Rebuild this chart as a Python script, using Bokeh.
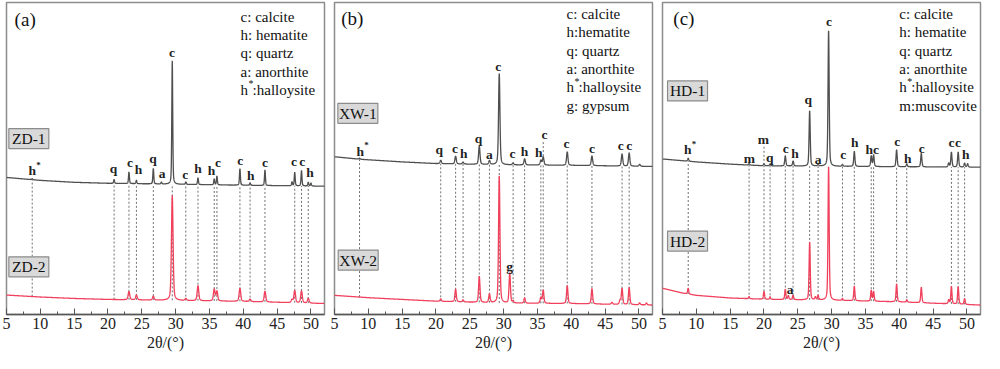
import numpy as np
from bokeh.plotting import figure
from bokeh.layouts import row
from bokeh.models import Range1d, SingleIntervalTicker
from bokeh.core.properties import value
from bokeh.embed import file_html
from bokeh.resources import INLINE

SERIF = "'Liberation Serif', 'Times New Roman', serif"
GRAY = "#4f4f4f"
RED = "#f0405c"
DOT = "#707070"

# ---------------- panel (a): ZD ----------------
a_top_base_x = [5, 10, 15, 20, 30, 40, 52]
a_top_base_y = [141, 138, 136, 135, 134, 133, 132]
a_top_pos = [8.8, 20.9, 23.1, 24.2, 26.7, 27.9, 29.5, 31.5, 33.3, 35.7, 36.1, 39.5, 41.0, 43.2, 47.2, 47.6, 48.6, 49.6, 50.0]
a_top_hgt = [1, 4, 12, 3.5, 16, 2, 127, 2.5, 7, 6, 9, 17, 2.5, 16, 4, 14, 16, 4, 3]
a_bot_base_x = [5, 10, 15, 20, 30, 40, 52]
a_bot_base_y = [20, 18, 16.5, 15.5, 14.5, 13.5, 11.3]
a_bot_pos = [23.1, 24.2, 26.7, 29.5, 31.5, 33.3, 35.7, 36.1, 39.5, 41.0, 43.2, 47.2, 47.6, 48.6, 49.6]
a_bot_hgt = [8.5, 5, 4, 108, 2, 15.5, 12, 10, 13.5, 2.5, 11, 3, 12.5, 12.5, 5]
a_lines = [8.8, 20.9, 23.1, 24.2, 26.7, 29.5, 31.5, 33.3, 35.7, 36.1, 39.5, 41.0, 43.2, 47.6, 48.6, 49.6]
a_lab_text = ["h*", "q", "c", "h", "q", "a", "c", "c", "h", "h", "c", "c", "h", "c", "c", "c", "h"]
a_lab_x = [8.8, 20.8, 23.25, 24.5, 26.65, 28.0, 29.45, 31.4, 33.3, 35.3, 36.25, 39.55, 41.1, 43.2, 47.5, 48.7, 49.85]
a_lab_y = [148, 150, 156, 149, 160, 145, 270, 144, 150, 148, 156, 158, 143, 156, 157, 157, 146]
a_samples = ["ZD-1", "ZD-2"]
a_legend = ["c: calcite", "h: hematite", "q: quartz", "a: anorthite", "h*:halloysite"]

# ---------------- panel (b): XW ----------------
b_top_base_x = [5, 8.8, 15, 20, 30, 40, 52]
b_top_base_y = [162.3, 159.7, 157, 155.3, 154, 153.5, 152.3]
b_top_pos = [8.7, 20.7, 22.9, 24.0, 26.4, 27.9, 29.35, 31.4, 33.1, 35.5, 35.85, 39.4, 43.05, 47.5, 48.55, 50.1]
b_top_hgt = [1, 3.5, 8, 2, 19, 4, 94, 2, 6.5, 5, 8.5, 14, 10, 12.5, 13.5, 2]
b_bot_base_x = [5, 10, 20, 30, 40, 52]
b_bot_base_y = [19.7, 17.3, 13.7, 11.7, 11.3, 9.7]
b_bot_pos = [20.7, 22.9, 24.0, 26.4, 27.9, 29.35, 30.9, 31.4, 33.1, 35.5, 35.85, 39.4, 43.05, 46.0, 47.2, 47.5, 48.55, 50.1, 51.1]
b_bot_hgt = [2.5, 13, 2, 27, 9, 131, 31, 2, 5.5, 6, 13.5, 18.5, 15.8, 2, 4, 16.5, 17.5, 2, 2]
b_lines = [8.7, 20.7, 22.9, 24.0, 26.4, 27.9, 29.35, 31.4, 33.1, 35.5, 35.85, 39.4, 43.05, 47.5, 48.55]
b_lab_text = ["h*", "q", "c", "h", "q", "a", "c", "c", "h", "h", "c", "c", "c", "c", "c", "g"]
b_lab_x = [8.8, 20.5, 22.8, 24.1, 26.3, 27.9, 29.2, 31.3, 33.1, 35.2, 36.05, 39.3, 43.05, 47.3, 48.55, 30.9]
b_lab_y = [168, 169.7, 170.3, 166, 181.3, 164.7, 255, 166, 168, 167, 184.7, 176, 170.3, 174, 174, 49.7]
b_lead_x = [35.85]
b_lead_y0 = [163]
b_lead_y1 = [178]
b_samples = ["XW-1", "XW-2"]
b_legend = ["c: calcite", "h:hematite", "q: quartz", "a: anorthite", "h*:halloysite", "g: gypsum"]

# ---------------- panel (c): HD ----------------
c_top_base_x = [5, 10, 15, 20, 30, 40, 52]
c_top_base_y = [160, 157, 154.7, 153, 152.5, 152, 151.5]
c_top_pos = [8.8, 17.8, 20.0, 20.9, 23.15, 24.3, 26.75, 28.0, 29.55, 31.6, 33.35, 35.85, 36.2, 39.6, 41.1, 43.25, 47.3, 47.7, 48.7, 49.65, 50.1]
c_top_hgt = [3, 1.5, 2, 2, 10.5, 5, 57, 2, 140, 2, 15.5, 11, 12, 17.5, 3, 14, 4, 15.5, 15.5, 4, 3.5]
c_bot_base_x = [5, 8, 10, 15, 20, 30, 40, 52]
c_bot_base_y = [27, 22, 19.7, 17, 15.7, 14.7, 13, 9.7]
c_bot_pos = [8.8, 17.8, 20.0, 20.9, 23.15, 23.6, 24.3, 26.75, 27.6, 28.0, 29.55, 31.6, 33.35, 35.85, 36.2, 39.6, 41.1, 43.25, 47.3, 47.7, 48.7, 49.65]
c_bot_hgt = [6, 2, 8, 2.5, 10.5, 4, 4.5, 59.5, 3, 4.5, 138, 2, 15, 11, 10, 18.3, 2.5, 16, 4, 18, 18, 6]
c_lines = [8.8, 17.8, 20.0, 20.9, 23.15, 24.3, 26.75, 28.0, 31.6, 33.35, 35.85, 36.2, 39.6, 41.1, 47.7, 48.7, 49.65]
c_lab_text = ["h*", "m", "m", "q", "c", "h", "q", "a", "c", "c", "h", "hc", "c", "h", "c", "c", "c", "h", "a"]
c_lab_x = [8.74, 17.85, 19.9, 20.87, 23.2, 24.6, 26.55, 28.0, 29.6, 31.7, 33.4, 36.0, 39.7, 41.25, 43.3, 47.7, 48.67, 49.83, 23.85]
c_lab_y = [169.7, 160.3, 179.7, 161.3, 170.3, 165.3, 221.3, 159.7, 301.3, 164.7, 177, 169.7, 178, 160.3, 171.3, 177, 177, 164.7, 25.3]
c_lead_x = [20.0]
c_lead_y0 = [154]
c_lead_y1 = [173]
c_samples = ["HD-1", "HD-2"]
c_legend = ["c: calcite", "h: hematite", "q: quartz", "a: anorthite", "h*:halloysite", "m:muscovite"]

X = np.arange(5.0, 52.01, 0.02)


def pattern(bx, by, pos, hgt, hw):
    y = np.interp(X, bx, by)
    for p0, h in zip(pos, hgt):
        d = (X - p0) / hw
        y = y + h * (0.4 / (1 + d * d) + 0.6 * np.exp(-np.log(2) * d * d))
    return y


def make_panel(letter, tb, tby, tp, th, thw, bb, bby, bp, bh, bhw, lines,
               lt, lx, ly, samples, box_xy, legend, leg_xy, lead=None):
    p = figure(width=328, height=353, x_range=Range1d(5, 52), y_range=Range1d(0, 321),
               output_backend="svg", toolbar_location=None, y_axis_location=None,
               min_border_left=6, min_border_right=4, min_border_top=2, min_border_bottom=0)
    p.xgrid.visible = False
    p.ygrid.visible = False
    p.outline_line_color = "#8c8c8c"
    p.outline_line_width = 1.5
    ax = p.xaxis[0]
    ax.ticker = SingleIntervalTicker(interval=5, num_minor_ticks=2)
    ax.major_tick_in = 6
    ax.major_tick_out = 0
    ax.minor_tick_in = 3
    ax.minor_tick_out = 0
    ax.axis_line_color = "#555555"
    ax.axis_line_width = 1.5
    ax.major_tick_line_color = "#555555"
    ax.minor_tick_line_color = "#555555"
    ax.major_label_text_font = SERIF
    ax.major_label_text_font_size = "16px"
    ax.major_label_text_color = "#222222"
    ax.major_label_standoff = 3
    ax.axis_label = "2θ/(°)"
    ax.axis_label_text_font = SERIF
    ax.axis_label_text_font_size = "16px"
    ax.axis_label_text_font_style = "normal"
    ax.axis_label_text_color = "#222222"
    ax.axis_label_standoff = 2

    # dotted reference lines
    lines = np.array(lines)
    y0 = np.interp(lines, bb, bby)
    y1 = np.interp(lines, tb, tby)
    p.segment(x0=lines, y0=y0, x1=lines, y1=y1, line_color=DOT, line_width=1, line_dash="2 2")
    if lead is not None:
        p.segment(x0=lead[0], y0=lead[1], x1=lead[0], y1=lead[2], line_color=DOT,
                  line_width=1, line_dash="2 2")

    p.line(X, pattern(tb, tby, tp, th, thw), line_color=GRAY, line_width=1.3)
    p.line(X, pattern(bb, bby, bp, bh, bhw), line_color=RED, line_width=1.3)

    # peak labels
    base_t = [t.replace("*", "") for t in lt]
    p.text(x=lx, y=ly, text=base_t, text_font=value(SERIF), text_font_size="13.5px",
           text_font_style="bold", text_align="center", text_baseline="middle", text_color="#222222")
    sx = [x for x, t in zip(lx, lt) if "*" in t]
    sy = [y for y, t in zip(ly, lt) if "*" in t]
    p.text(x=sx, y=sy, text=["*"] * len(sx), text_font=value(SERIF), text_font_size="9px",
           text_font_style="bold", text_align="left", text_baseline="middle",
           x_offset=4, y_offset=-6, text_color="#222222")

    # sample boxes
    bx = [b[0] for b in box_xy]
    by = [b[1] for b in box_xy]
    p.rect(x=bx, y=by, width=40, height=20, width_units="screen", height_units="screen",
           fill_color="#d9d9d9", line_color="#8c8c8c", line_width=1.2)
    p.text(x=bx, y=by, text=samples, text_font=value(SERIF), text_font_size="15.5px",
           text_align="center", text_baseline="middle", text_color="#111111")

    # legend
    lgx, lgy0, lgdy = leg_xy
    for i, s in enumerate(legend):
        yy = lgy0 - i * lgdy
        if "*" in s:
            pre, post = s.split("*")
            p.text(x=[lgx], y=[yy], text=[pre], text_font=value(SERIF), text_font_size="15px",
                   text_align="left", text_baseline="middle", text_color="#111111")
            p.text(x=[lgx], y=[yy], text=["*"], text_font=value(SERIF), text_font_size="10px",
                   text_align="left", text_baseline="middle", x_offset=8, y_offset=-6,
                   text_color="#111111")
            p.text(x=[lgx], y=[yy], text=[post], text_font=value(SERIF), text_font_size="15px",
                   text_align="left", text_baseline="middle", x_offset=12, text_color="#111111")
        else:
            p.text(x=[lgx], y=[yy], text=[s], text_font=value(SERIF), text_font_size="15px",
                   text_align="left", text_baseline="middle", text_color="#111111")

    p.text(x=[letter[1]], y=[letter[2]], text=[letter[0]], text_font=value(SERIF),
           text_font_size="19px", text_align="left", text_baseline="middle", text_color="#111111")
    return p


pa = make_panel(("(a)", 6.2, 303), a_top_base_x, a_top_base_y, a_top_pos, a_top_hgt, 0.08,
                a_bot_base_x, a_bot_base_y, a_bot_pos, a_bot_hgt, 0.14, a_lines,
                a_lab_text, a_lab_x, a_lab_y, a_samples, [(8.3, 181), (8.3, 49)],
                a_legend, (39.6, 306, 18.7))
pb = make_panel(("(b)", 6.0, 305), b_top_base_x, b_top_base_y, b_top_pos, b_top_hgt, 0.12,
                b_bot_base_x, b_bot_base_y, b_bot_pos, b_bot_hgt, 0.12, b_lines,
                b_lab_text, b_lab_x, b_lab_y, b_samples, [(8.45, 207), (8.5, 56)],
                b_legend, (39.3, 309, 18.8), lead=(b_lead_x, b_lead_y0, b_lead_y1))
pc = make_panel(("(c)", 6.6, 305), c_top_base_x, c_top_base_y, c_top_pos, c_top_hgt, 0.1,
                c_bot_base_x, c_bot_base_y, c_bot_pos, c_bot_hgt, 0.1, c_lines,
                c_lab_text, c_lab_x, c_lab_y, c_samples, [(8.7, 230), (8.7, 75.5)],
                c_legend, (40.0, 309, 18.8), lead=(c_lead_x, c_lead_y0, c_lead_y1))

layout = row(pa, pb, pc, spacing=0)
open("out.html", "w").write(file_html(layout, INLINE))
